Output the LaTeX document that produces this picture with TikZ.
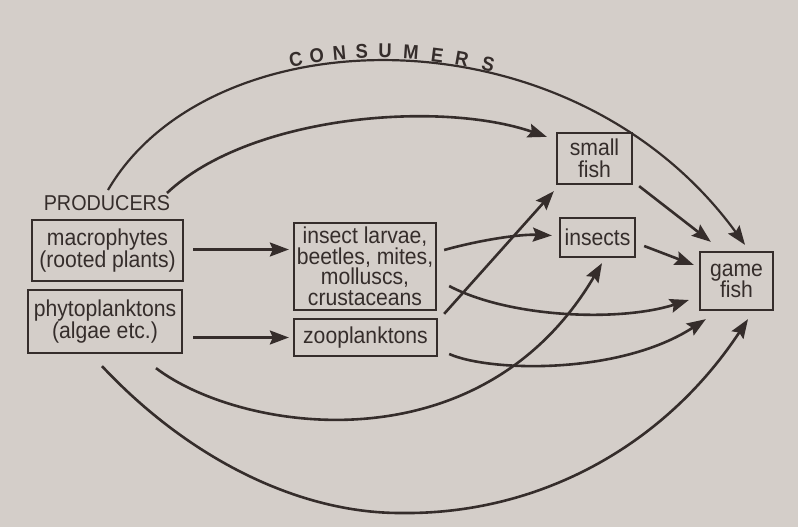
\documentclass[tikz,border=0pt]{standalone}
\usepackage{fontspec}
\setmainfont{Liberation Sans}[FakeStretch=0.92]
\usetikzlibrary{arrows.meta}
\definecolor{paper}{HTML}{D4CEC9}
\definecolor{ink}{HTML}{352D2B}
\begin{document}
\begin{tikzpicture}[x=1pt,y=-1pt,
 box/.style={draw=ink, line width=2.3pt, inner sep=0pt, align=center, text=ink, font=\fontsize{23}{21.5}\selectfont},
 lbl/.style={inner sep=0pt, text=ink, font=\fontsize{21.5}{21}\selectfont},
 cons/.style={inner sep=0pt, text=ink, font=\fontsize{20}{20}\selectfont\bfseries},
 arr/.style={draw=ink, line width=2.6pt, -{Stealth[length=19pt,width=14pt,inset=3pt]}},
]
\fill[paper] (0,0) rectangle (798,527);
\useasboundingbox (0,0) rectangle (798,527);

% nodes
\node[lbl] (prod) at (107,203) {PRODUCERS};
\node[box, minimum width=151pt, minimum height=61pt] (mac) at (107.5,250.5) {macrophytes\\(rooted plants)};
\node[box, minimum width=154pt, minimum height=63pt] (phy) at (105,321.5) {phytoplanktons\\(algae etc.)};
\node[box, minimum width=142pt, minimum height=87pt, font=\fontsize{23}{20.5}\selectfont] (lar) at (365,266.5) {insect larvae,\\beetles, mites,\\molluscs,\\crustaceans};
\node[box, minimum width=143pt, minimum height=37pt] (zoo) at (365.5,337.5) {zooplanktons};
\node[box, minimum width=75pt, minimum height=51pt] (sf) at (594.5,158.5) {small\\fish};
\node[box, minimum width=75pt, minimum height=39pt] (ins) at (597.5,237.5) {insects};
\node[box, minimum width=73pt, minimum height=58pt] (gf) at (736.5,281) {game\\fish};

% top arc with CONSUMERS
\draw[arr, line width=2.2pt] ([shift={(1,-13)}]prod.center) .. controls (210,15) and (570,5) .. ([shift={(8.5,-6)}]gf.north);
\path ([shift={(1,-13)}]prod.center) .. controls (210,15) and (570,5) .. ([shift={(8.5,-6)}]gf.north)
  node[cons, pos=0.360, sloped, above=3pt] {C}
  node[cons, pos=0.389, sloped, above=3pt] {O}
  node[cons, pos=0.420, sloped, above=3pt] {N}
  node[cons, pos=0.450, sloped, above=3pt] {S}
  node[cons, pos=0.481, sloped, above=3pt] {U}
  node[cons, pos=0.515, sloped, above=3pt] {M}
  node[cons, pos=0.549, sloped, above=3pt] {E}
  node[cons, pos=0.581, sloped, above=3pt] {R}
  node[cons, pos=0.615, sloped, above=3pt] {S};

% second arc to small fish
\draw[arr] ([shift={(60,-10)}]prod.center) .. controls (250,115) and (440,100) .. ([shift={(-9,5)}]sf.north west);

% straight producer arrows
\draw[arr] ([shift={(9,-1)}]mac.east) -- ([shift={(-4,-17)}]lar.west);
\draw[arr] ([shift={(10,16)}]phy.east) -- ([shift={(-4,0)}]zoo.west);

% from insect larvae
\draw[arr] ([shift={(7,-16.5)}]lar.east) .. controls (480,240) and (520,234) .. ([shift={(-7,-2)}]ins.west);
\draw[arr] ([shift={(12,19.5)}]lar.east) .. controls (510,318) and (620,322) .. ([shift={(-10,19)}]gf.west);

% from zooplanktons
\draw[arr] ([shift={(11,16.5)}]zoo.east) .. controls (490,372) and (620,375) .. ([shift={(7,8)}]gf.south west);
\draw[arr] ([shift={(6,-4)}]zoo.north east) -- ([shift={(-2,6)}]sf.south west);

% lower arcs from phytoplanktons
\draw[arr] ([shift={(51,14)}]phy.south) .. controls (240,432) and (480,470) .. ([shift={(4.5,5)}]ins.south);
\draw[arr] ([shift={(-3,12)}]phy.south) .. controls (190,460) and (300,513) .. (400,513) .. controls (540,515) and (665,445) .. ([shift={(11.5,8)}]gf.south);

% to game fish
\draw[arr] ([shift={(6,1)}]sf.south east) -- ([shift={(12,-9)}]gf.north west);
\draw[arr] ([shift={(8,8.5)}]ins.east) -- ([shift={(-5,-16)}]gf.west);
\end{tikzpicture}
\end{document}
